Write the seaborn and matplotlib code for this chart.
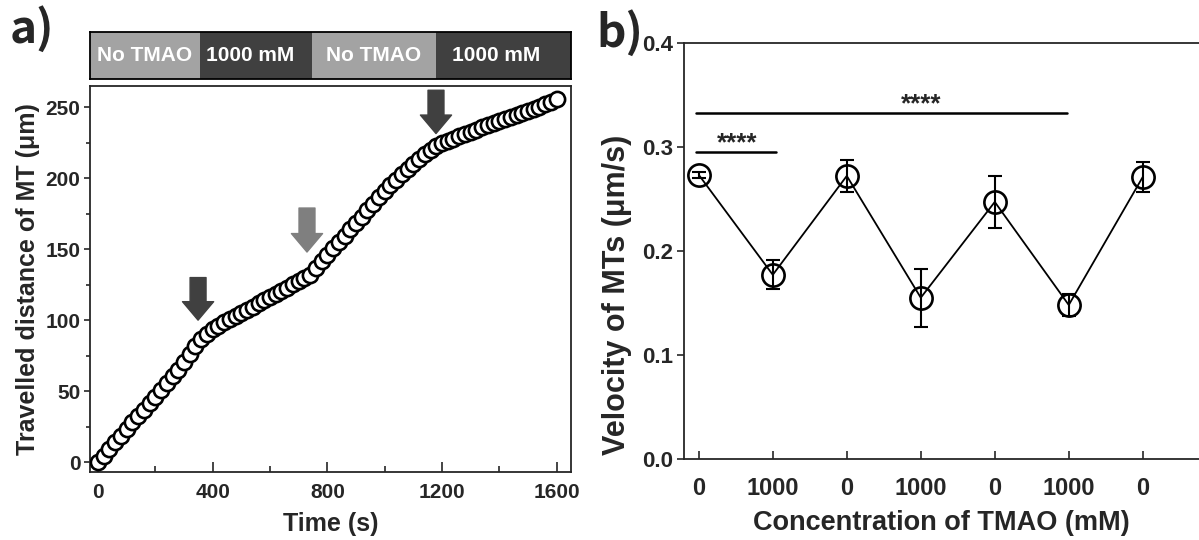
import matplotlib
matplotlib.use('Agg')
import matplotlib.pyplot as plt
import seaborn as sns
import pandas as pd

# ---- data ----
time_s = [0, 20, 40, 60, 80, 100, 120, 140, 160, 180,
          200, 220, 240, 260, 280, 300, 320, 340, 360, 380,
          400, 420, 440, 460, 480, 500, 520, 540, 560, 580,
          600, 620, 640, 660, 680, 700, 720, 740, 760, 780,
          800, 820, 840, 860, 880, 900, 920, 940, 960, 980,
          1000, 1020, 1040, 1060, 1080, 1100, 1120, 1140, 1160, 1180,
          1200, 1220, 1240, 1260, 1280, 1300, 1320, 1340, 1360, 1380,
          1400, 1420, 1440, 1460, 1480, 1500, 1520, 1540, 1560, 1580, 1600]
distance_um = [0, 4.6, 9.3, 14, 18.6, 23.3, 28, 32.5, 37, 41.5,
               46, 51, 56, 61, 65, 70.5, 76, 81.5, 87, 90.5,
               93.5, 96, 98.5, 100.8, 103, 105, 107.2, 109.5, 111.8, 114,
               116.3, 118.5, 120.8, 123, 125.3, 127.8, 130, 132, 137, 141.5,
               146, 150.5, 155, 159.5, 164, 168.5, 173, 177.5, 182, 186.5,
               191, 195, 199, 203, 206.5, 210, 213.5, 217, 220, 222.5,
               224.5, 226.3, 228, 229.5, 231, 232.6, 234.2, 235.8, 237.3, 238.8,
               240.3, 241.8, 243.3, 244.8, 246.2, 247.6, 249, 250.5, 252, 253.8, 256]

phase_labels = ['No TMAO', '1000 mM', 'No TMAO', '1000 mM']
phase_edges = [-28, 355, 745, 1180, 1650]
arrow_times = [349, 729, 1179]
arrow_top = [130, 179, 262]
arrow_tip = [100, 148, 231.5]

conc_labels = ['0', '1000', '0', '1000', '0', '1000', '0']
velocity = [0.273, 0.177, 0.272, 0.155, 0.247, 0.148, 0.271]
velocity_err = [0.003, 0.014, 0.015, 0.028, 0.025, 0.011, 0.014]

# ---- style ----
sns.set_style('ticks')
plt.rcParams['font.family'] = ['Liberation Sans', 'DejaVu Sans']
plt.rcParams['font.weight'] = 'bold'
plt.rcParams['axes.linewidth'] = 1.3

LIGHT = '#a3a3a3'
DARK = '#404040'

W, H = 1199, 540
fig = plt.figure(figsize=(W / 100, H / 100), dpi=100)

def box(l, b, r, t):
    return [l / W, 1 - b / H, (r - l) / W, (b - t) / H]

# ---- panel a ----
ax_bar = fig.add_axes(box(90, 79, 571, 32))
ax = fig.add_axes(box(90, 472, 571, 86))

df_a = pd.DataFrame({'time': time_s, 'dist': distance_um})
sns.scatterplot(data=df_a, x='time', y='dist', ax=ax, s=120, marker='o',
                facecolor='white', edgecolor='black', linewidth=1.9, zorder=3)
ax.set_xlim(-28, 1650)
ax.set_ylim(-7, 265)
ax.set_xticks([0, 400, 800, 1200, 1600])
ax.set_xticks([200, 600, 1000, 1400], minor=True)
ax.set_yticks([0, 50, 100, 150, 200, 250])
ax.set_yticks([25, 75, 125, 175, 225], minor=True)
ax.tick_params(axis='x', which='major', direction='in', length=7, width=1.2,
               labelsize=15, pad=8)
ax.tick_params(axis='x', which='minor', direction='in', length=4, width=1.2)
ax.tick_params(axis='y', which='major', direction='out', length=4, width=1.2,
               labelsize=15, pad=3)
ax.tick_params(axis='y', which='minor', direction='out', length=3, width=1.2)
ax.set_xlabel('Time (s)', fontsize=18, fontweight='bold', labelpad=7)
ax.set_ylabel('Travelled distance of MT (μm)', fontsize=18, fontweight='bold', labelpad=4)
for sp in ax.spines.values():
    sp.set_visible(True)

arrow_colors = [DARK, '#7f7f7f', DARK]
for t, top, tip, c in zip(arrow_times, arrow_top, arrow_tip, arrow_colors):
    ax.annotate('', xy=(t, tip), xytext=(t, top),
                arrowprops=dict(arrowstyle='simple,head_length=0.95,head_width=1.6,tail_width=0.82',
                                color=c, shrinkA=0, shrinkB=0, mutation_scale=14),
                zorder=4)

# condition bar above panel a
for i, lab in enumerate(phase_labels):
    c = LIGHT if i % 2 == 0 else DARK
    ax_bar.barh(0.5, phase_edges[i + 1] - phase_edges[i], left=phase_edges[i],
                height=1.0, color=c, edgecolor='none')
label_x = [164, 532, 960, 1388]
for x, lab in zip(label_x, phase_labels):
    ax_bar.text(x, 0.5, lab, color='white', fontsize=15, fontweight='bold',
                ha='center', va='center')
ax_bar.set_xlim(-28, 1650)
ax_bar.set_ylim(0, 1)
ax_bar.set_xticks([])
ax_bar.set_yticks([])
for sp in ax_bar.spines.values():
    sp.set_visible(True)
    sp.set_color('black')

# ---- panel b ----
axb = fig.add_axes(box(684, 459, 1199, 42.7))
pos = list(range(len(velocity)))
df_b = pd.DataFrame({'pos': pos, 'vel': velocity, 'err': velocity_err})
axb.errorbar(df_b['pos'], df_b['vel'], yerr=df_b['err'], fmt='none',
             ecolor='black', elinewidth=1.5, capsize=5, capthick=1.5, zorder=3)
sns.lineplot(data=df_b, x='pos', y='vel', ax=axb, color='black', linewidth=1.3,
             marker='o', markersize=16, markerfacecolor='none',
             markeredgecolor='black', markeredgewidth=1.9, zorder=2)
axb.set_xlim(-0.2, 6.76)
axb.set_ylim(0, 0.4)
axb.set_xticks(pos)
axb.set_xticklabels(conc_labels)
axb.set_yticks([0.0, 0.1, 0.2, 0.3, 0.4])
axb.set_yticklabels(['0.0', '0.1', '0.2', '0.3', '0.4'])
axb.tick_params(axis='x', direction='in', length=6, width=1.2, labelsize=17, pad=13)
axb.tick_params(axis='y', direction='out', length=5, width=1.2, labelsize=16, pad=3)
axb.set_xlabel('Concentration of TMAO (mM)', fontsize=19.5, fontweight='bold', labelpad=7)
axb.set_ylabel('Velocity of MTs (μm/s)', fontsize=22, fontweight='bold')
axb.yaxis.set_label_coords(-0.101, 0.394)
axb.spines['right'].set_visible(False)
axb.spines['top'].set_visible(True)

# significance bars
axb.plot([-0.04, 1.04], [0.2945, 0.2945], color='black', linewidth=1.8)
axb.text(0.52, 0.2945 + 0.002, '****', ha='center', va='baseline', fontsize=18.5)
axb.plot([-0.04, 4.98], [0.3324, 0.3324], color='black', linewidth=1.8)
axb.text(3.0, 0.3324 + 0.002, '****', ha='center', va='baseline', fontsize=18.5)

# panel letters
fig.text(10 / W, 1 - 43 / H, 'a)', fontsize=33, fontweight='bold',
         family=['Noto Sans CJK KR', 'DejaVu Sans'], va='baseline')
fig.text(596 / W, 1 - 47 / H, 'b)', fontsize=33, fontweight='bold',
         family=['Noto Sans CJK KR', 'DejaVu Sans'], va='baseline')

fig.savefig('out.png', dpi=100)
